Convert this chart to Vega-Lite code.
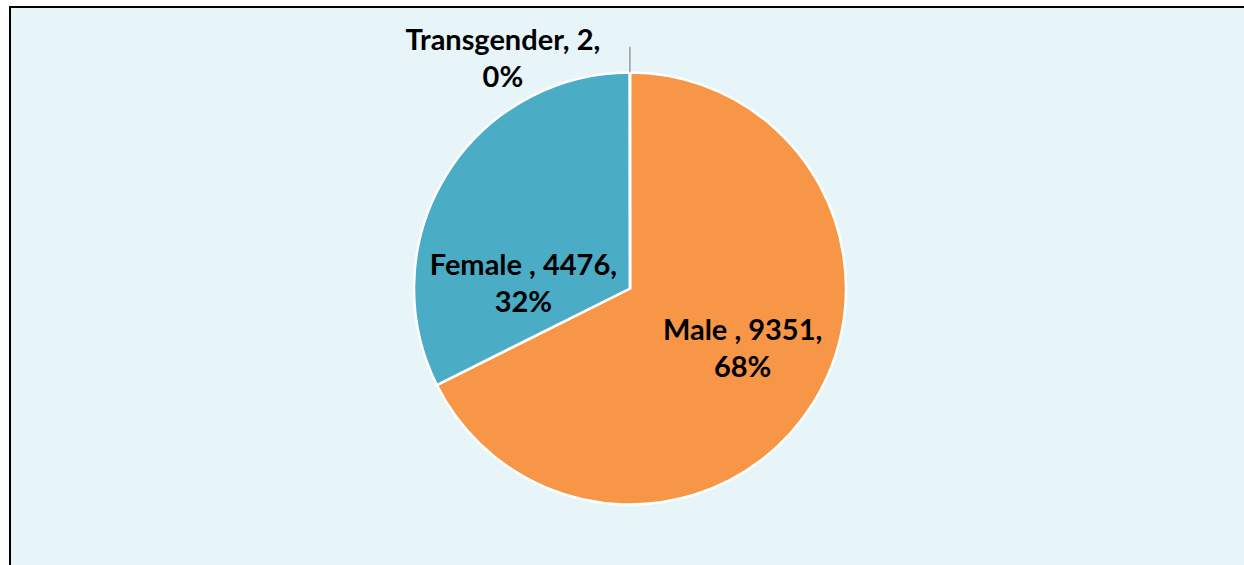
{
  "$schema": "https://vega.github.io/schema/vega-lite/v6.json",
  "width": 1240,
  "height": 563,
  "autosize": {"type": "none"},
  "padding": {"left": 10, "top": 7, "right": 0, "bottom": 0},
  "background": "white",
  "view": {"fill": "#E7F4F8", "stroke": "black", "strokeWidth": 2},
  "data": {"values": [
    {"gender": "Male ", "count": 9351},
    {"gender": "Female ", "count": 4476},
    {"gender": "Transgender", "count": 2}
  ]},
  "transform": [
    {"joinaggregate": [{"op": "sum", "field": "count", "as": "total"}]},
    {"calculate": "datum.gender + ', ' + datum.count + ',\\n' + format(datum.count / datum.total, '.0%')", "as": "label"}
  ],
  "encoding": {
    "theta": {"field": "count", "type": "quantitative", "stack": true},
    "order": {"field": "count", "type": "quantitative", "sort": "descending"}
  },
  "layer": [
    {
      "mark": {"type": "arc", "radius": 216, "stroke": "white", "strokeWidth": 2.5},
      "encoding": {
        "color": {"field": "gender", "type": "nominal", "scale": {"domain": ["Male ", "Female ", "Transgender"], "range": ["#F79646", "#4BACC6", "#9BBB59"]}, "legend": null}
      }
    },
    {
      "mark": {"type": "arc", "radius": 241, "radius2": 217, "fillOpacity": 0, "strokeWidth": 1.5},
      "encoding": {
        "stroke": {"condition": {"test": "datum.gender === 'Transgender'", "value": "#A6A6A6"}, "value": "transparent"}
      }
    },
    {
      "mark": {"type": "text", "radius": 130, "dx": 2, "dy": -26, "font": "Lato", "fontSize": 29, "fontWeight": "bold", "lineHeight": 37, "align": "center", "baseline": "middle", "lineBreak": "\n", "color": "black"},
      "encoding": {"text": {"condition": {"test": "datum.gender === 'Male '", "field": "label"}, "value": ""}}
    },
    {
      "mark": {"type": "text", "radius": 110, "dx": -13, "dy": 35, "font": "Lato", "fontSize": 29, "fontWeight": "bold", "lineHeight": 37, "align": "center", "baseline": "middle", "lineBreak": "\n", "color": "black"},
      "encoding": {"text": {"condition": {"test": "datum.gender === 'Female '", "field": "label"}, "value": ""}}
    },
    {
      "mark": {"type": "text", "radius": 228, "dx": -127, "dy": -20, "font": "Lato", "fontSize": 29, "fontWeight": "bold", "lineHeight": 37, "align": "center", "baseline": "middle", "lineBreak": "\n", "color": "black"},
      "encoding": {"text": {"condition": {"test": "datum.gender === 'Transgender'", "field": "label"}, "value": ""}}
    }
  ]
}
